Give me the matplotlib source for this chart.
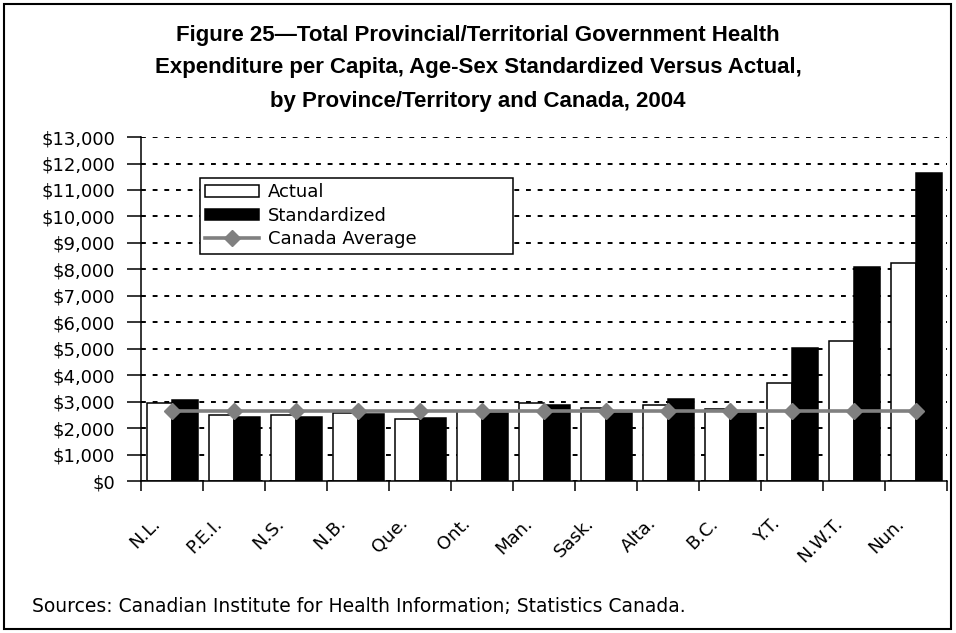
import matplotlib
matplotlib.use('Agg')
import matplotlib.pyplot as plt
import matplotlib.transforms as mtransforms
import numpy as np
from matplotlib.patches import Rectangle
from matplotlib.ticker import StrMethodFormatter

# data
regions = ['N.L.', 'P.E.I.', 'N.S.', 'N.B.', 'Que.', 'Ont.', 'Man.',
           'Sask.', 'Alta.', 'B.C.', 'Y.T.', 'N.W.T.', 'Nun.']
actual = [2960, 2490, 2490, 2570, 2340, 2640, 2950, 2750, 2870, 2720, 3700, 5300, 8250]
standardized = [3060, 2430, 2430, 2530, 2370, 2580, 2890, 2580, 3110, 2570, 5020, 8100, 11650]
canada_avg = 2650

title_lines = ['Figure 25\u2014Total Provincial/Territorial Government Health',
               'Expenditure per Capita, Age-Sex Standardized Versus Actual,',
               'by Province/Territory and Canada, 2004']
source = 'Sources: Canadian Institute for Health Information; Statistics Canada.'

plt.rcParams['font.family'] = ['DejaVu Sans']

fig = plt.figure(figsize=(9.56, 6.33), dpi=100)
ax = fig.add_axes([0.1475, 0.2401, 0.8431, 0.5434])

x = np.arange(len(regions))
w = 0.41
b1 = ax.bar(x - 0.2, actual, w, color='white', edgecolor='black', lw=1.1, label='Actual', zorder=2)
b2 = ax.bar(x + 0.21, standardized, w, color='black', edgecolor='black', lw=1.1, label='Standardized', zorder=2)
l1, = ax.plot(x, np.full(len(x), canada_avg), color='#808080', lw=2.6, marker='D', ms=8,
              label='Canada Average', zorder=3)

ax.set_xlim(-0.5, len(regions) - 0.5)
ax.set_ylim(0, 13000)
ax.set_yticks(np.arange(0, 13001, 1000))
ax.yaxis.set_major_formatter(StrMethodFormatter('${x:,.0f}'))
ax.tick_params(axis='y', direction='out', length=10, width=1.1, pad=8.5, labelsize=13)

# tick marks between categories, labels at the centres
ax.set_xticks(np.arange(len(regions) + 1) - 0.5)
ax.set_xticklabels([])
ax.tick_params(axis='x', which='major', direction='out', length=7, width=1.1)
ax.set_xticks(x, minor=True)
ax.set_xticklabels(regions, minor=True, rotation=45, ha='right', va='baseline',
                   rotation_mode='anchor', fontsize=13)
ax.tick_params(axis='x', which='minor', length=0, pad=31)
shift = mtransforms.ScaledTranslation(-0.11, 0, fig.dpi_scale_trans)
for lab in ax.get_xticklabels(minor=True):
    lab.set_transform(lab.get_transform() + shift)

ax.yaxis.grid(True, color='black', lw=1.4, linestyle=(0, (2.5, 3.5)))
ax.set_axisbelow(True)
for s in ['top', 'right']:
    ax.spines[s].set_visible(False)
for s in ['left', 'bottom']:
    ax.spines[s].set_linewidth(1.1)

leg = ax.legend([b1, b2, l1], ['Actual', 'Standardized', 'Canada Average'],
                loc='upper left', bbox_to_anchor=(0.073, 0.781, 0.388, 0.1), mode='expand',
                borderaxespad=0, borderpad=0.3, fontsize=13, fancybox=False, framealpha=1,
                edgecolor='black', handlelength=3.0, handleheight=0.6, labelspacing=0.3,
                handletextpad=0.45)
leg.get_frame().set_linewidth(1.1)

for i, line in enumerate(title_lines):
    fig.text(0.5, 1 - (35 + 33 * i) / 633, line, ha='center', va='center',
             fontsize=16, fontweight='bold', family='Liberation Sans')

fig.text(32 / 956, 1 - 607 / 633, source, ha='left', va='center', fontsize=13.5)

fig.patches.append(Rectangle((0.0042, 0.0063), 0.9906, 0.9874, transform=fig.transFigure,
                             fill=False, lw=1.5, edgecolor='black'))

fig.savefig('out.png', dpi=100)
